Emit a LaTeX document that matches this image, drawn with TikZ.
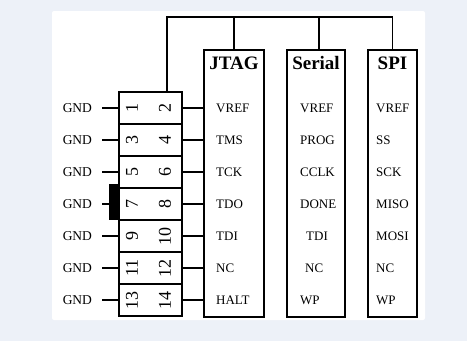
\documentclass[tikz,border=0pt]{standalone}
\usepackage{fontspec}
\setmainfont{Liberation Serif}
\usepackage{xcolor}
\usetikzlibrary{positioning, calc}
\definecolor{pagebg}{HTML}{EDF1F8}

\begin{document}
\begin{tikzpicture}[
    x=1pt, y=-1pt,
    wire/.style={line width=1.6pt},
    pinrow/.style={rectangle, draw, line width=1.6pt, minimum width=63pt,
                   minimum height=32pt, inner sep=0pt},
    pinnum/.style={font=\fontsize{18}{18}\selectfont, rotate=90, inner sep=0pt},
    gnd/.style={font=\fontsize{13.5}{14}\selectfont, inner sep=0pt, anchor=east},
    sig/.style={font=\fontsize{13}{14}\selectfont, inner sep=0pt, anchor=west},
    column/.style={rectangle, draw, line width=1.6pt, minimum height=267pt,
                   anchor=north, inner sep=0pt},
    title/.style={font=\fontsize{19}{19}\selectfont\bfseries, inner sep=0pt},
]
    % Background
    \useasboundingbox (0,0) rectangle (467,341);
    \fill[pagebg] (0,0) rectangle (467,341);
    \fill[white, rounded corners=2pt] (52,11) rectangle (425,320);

    % Header rows
    \foreach \i in {1,...,7} {
        \node[pinrow] (row\i) at (150.5, 76+32*\i) {};
    }

    % Key notch
    \node[fill, minimum width=10pt, minimum height=36pt, inner sep=0pt] (key) at (114,202) {};

    % Pin numbers
    \foreach \i in {1,...,7} {
        \pgfmathtruncatemacro\odd{2*\i-1}
        \pgfmathtruncatemacro\even{2*\i}
        \node[pinnum] (pin\odd) at ($(row\i.center)+(-18.5,0)$) {\odd};
        \node[pinnum] (pin\even) at ($(row\i.center)+(14.5,0)$) {\even};
    }

    % Signal columns
    \node[column, minimum width=60pt] (jtag)   at (234,49)   {};
    \node[column, minimum width=58pt] (serial) at (316,49)   {};
    \node[column, minimum width=49pt] (spi)    at (392.5,49) {};

    % Titles
    \node[title] (tjtag)   at (234,63)   {JTAG};
    \node[title] (tserial) at (316,63)   {Serial};
    \node[title] (tspi)    at (392.5,63) {SPI};

    % GND side
    \foreach \i in {1,...,7} {
        \node[gnd] (gnd\i) at ($(row\i.west)+(-26,0)$) {GND};
        \draw[wire, shorten <=10pt] (gnd\i.east) -- (row\i.west);
        \draw[wire] (row\i.east) -- (jtag.west |- row\i.east);
    }

    % Signal names
    \foreach \name [count=\i] in {VREF, TMS, TCK, TDO, TDI, NC, HALT} {
        \node[sig] (j\i) at (216, 76+32*\i) {\name};
    }
    \foreach \name/\dx [count=\i] in {VREF/0, PROG/0, CCLK/0, DONE/0, TDI/6, NC/5, WP/0} {
        \node[sig] (s\i) at (300+\dx, 76+32*\i) {\name};
    }
    \foreach \name [count=\i] in {VREF, SS, SCK, MISO, MOSI, NC, WP} {
        \node[sig] (p\i) at (376, 76+32*\i) {\name};
    }

    % Bus on top
    \coordinate (busL) at (167,17);
    \coordinate (busR) at (spi.north |- busL);
    \draw[wire] (row1.north -| busL) -- (busL) -- (busR) -- (spi.north);
    \draw[wire] (jtag.north) -- (jtag.north |- busL);
    \draw[wire] ($(serial.north)+(3,0)$) -- ($(serial.north |- busL)+(3,0)$);
\end{tikzpicture}
\end{document}
